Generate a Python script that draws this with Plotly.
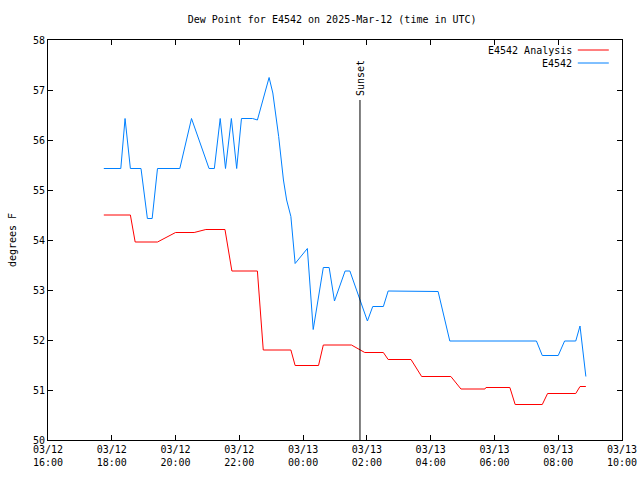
import plotly.graph_objects as go

# Observed dew point (E4542)
obs_time = ["2025-03-12 17:45", "2025-03-12 18:17", "2025-03-12 18:25", "2025-03-12 18:35",
            "2025-03-12 18:55", "2025-03-12 19:07", "2025-03-12 19:16", "2025-03-12 19:26",
            "2025-03-12 20:08", "2025-03-12 20:30", "2025-03-12 21:03", "2025-03-12 21:13",
            "2025-03-12 21:24", "2025-03-12 21:34", "2025-03-12 21:45", "2025-03-12 21:55",
            "2025-03-12 22:04", "2025-03-12 22:25", "2025-03-12 22:34", "2025-03-12 22:56",
            "2025-03-12 23:03", "2025-03-12 23:08", "2025-03-12 23:14", "2025-03-12 23:23",
            "2025-03-12 23:29", "2025-03-12 23:37", "2025-03-12 23:45", "2025-03-13 00:08",
            "2025-03-13 00:19", "2025-03-13 00:38", "2025-03-13 00:49", "2025-03-13 00:59",
            "2025-03-13 01:19", "2025-03-13 01:28", "2025-03-13 01:47", "2025-03-13 02:01",
            "2025-03-13 02:11", "2025-03-13 02:31", "2025-03-13 02:40", "2025-03-13 04:14",
            "2025-03-13 04:36", "2025-03-13 07:19", "2025-03-13 07:30", "2025-03-13 08:00",
            "2025-03-13 08:12", "2025-03-13 08:33", "2025-03-13 08:41", "2025-03-13 08:52"]
obs_val = [55.43, 55.43, 56.43, 55.43,
           55.43, 54.43, 54.43, 55.43,
           55.43, 56.43, 55.43, 55.43,
           56.43, 55.43, 56.43, 55.43,
           56.43, 56.43, 56.40, 57.25,
           56.94, 56.54, 56.07, 55.2,
           54.8, 54.47, 53.53, 53.83,
           52.21, 53.45, 53.45, 52.78,
           53.38, 53.38, 52.78, 52.38,
           52.67, 52.67, 52.98, 52.97,
           51.98, 51.98, 51.69, 51.69,
           51.98, 51.98, 52.28, 51.27]

# Analysis dew point (E4542 Analysis)
ana_time = ["2025-03-12 17:45", "2025-03-12 18:35", "2025-03-12 18:44", "2025-03-12 19:26",
            "2025-03-12 20:00", "2025-03-12 20:35", "2025-03-12 20:57", "2025-03-12 21:33",
            "2025-03-12 21:46", "2025-03-12 22:34", "2025-03-12 22:45", "2025-03-12 23:37",
            "2025-03-12 23:45", "2025-03-13 00:29", "2025-03-13 00:38", "2025-03-13 01:31",
            "2025-03-13 01:56", "2025-03-13 02:31", "2025-03-13 02:40", "2025-03-13 03:23",
            "2025-03-13 03:43", "2025-03-13 04:38", "2025-03-13 04:57", "2025-03-13 05:42",
            "2025-03-13 05:44", "2025-03-13 06:29", "2025-03-13 06:39", "2025-03-13 07:30",
            "2025-03-13 07:40", "2025-03-13 08:33", "2025-03-13 08:41", "2025-03-13 08:52"]
ana_val = [54.5, 54.5, 53.96, 53.96,
           54.15, 54.15, 54.21, 54.21,
           53.38, 53.38, 51.8, 51.8,
           51.49, 51.49, 51.9, 51.9,
           51.75, 51.75, 51.61, 51.61,
           51.27, 51.27, 51.02, 51.02,
           51.05, 51.05, 50.71, 50.71,
           50.93, 50.93, 51.07, 51.07]

sunset_time = "2025-03-13 01:47"
sunset_top = 56.8
x_range = ["2025-03-12 16:00", "2025-03-13 10:00"]
y_range = [50, 58]

FONT = "DejaVu Sans Mono"
RED = "#ff0000"
BLUE = "#0080ff"

fig = go.Figure()
fig.add_trace(go.Scatter(x=ana_time, y=ana_val, mode="lines", name="E4542 Analysis",
                         line=dict(color=RED, width=1)))
fig.add_trace(go.Scatter(x=obs_time, y=obs_val, mode="lines", name="E4542",
                         line=dict(color=BLUE, width=1)))

# Sunset marker
fig.add_shape(type="line", xref="x", yref="y", x0=sunset_time, x1=sunset_time,
              y0=y_range[0], y1=sunset_top, line=dict(color="black", width=1))
fig.add_annotation(x=sunset_time, y=sunset_top, xref="x", yref="y", text="Sunset",
                   textangle=-90, showarrow=False, yanchor="bottom", xanchor="center",
                   yshift=2, font=dict(family=FONT, size=10, color="black"))

# Manual legend (gnuplot style: text then sample line)
for i, (name, col) in enumerate([("E4542 Analysis", RED), ("E4542", BLUE)]):
    yy = 0.975 - i * 0.0325
    fig.add_annotation(x=0.917, y=yy, xref="paper", yref="paper", text=name,
                       showarrow=False, xanchor="right", yanchor="middle",
                       font=dict(family=FONT, size=10, color="black"))
    fig.add_shape(type="line", xref="paper", yref="paper", x0=0.923, x1=0.977,
                  y0=yy, y1=yy, line=dict(color=col, width=1))

fig.update_layout(
    width=640, height=480,
    margin=dict(l=48, r=18, t=40, b=40),
    paper_bgcolor="white", plot_bgcolor="white",
    showlegend=False,
    title=dict(text="Dew Point for E4542 on 2025-Mar-12 (time in UTC)", xref="paper", x=0.495,
               xanchor="center", y=1 - 19 / 480, yanchor="middle",
               font=dict(family=FONT, size=10, color="black")),
    font=dict(family=FONT, size=10, color="black"),
)
fig.update_xaxes(range=x_range, type="date", dtick=2 * 3600 * 1000,
                 tick0="2025-03-12 16:00", tickformat="%m/%d<br>%H:%M", automargin=False,
                 showgrid=False, zeroline=False, showline=True, linecolor="black", linewidth=1,
                 mirror="ticks", ticks="inside", ticklen=5, tickcolor="black",
                 tickfont=dict(family=FONT, size=10, color="black"))
fig.update_yaxes(range=y_range, dtick=1, showgrid=False, zeroline=False, automargin=False,
                 showline=True, linecolor="black", linewidth=1, mirror="ticks",
                 ticks="inside", ticklen=5, tickcolor="black",
                 title=dict(text="degrees F", standoff=14, font=dict(family=FONT, size=10)),
                 tickfont=dict(family=FONT, size=10, color="black"))

fig.write_html("out.html")
